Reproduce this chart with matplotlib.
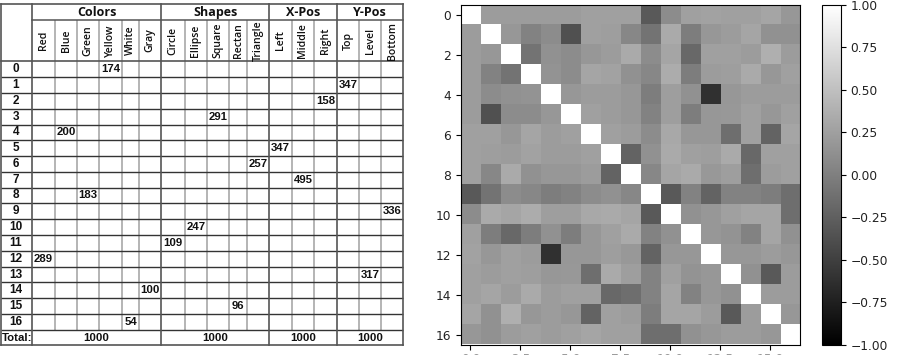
import numpy as np
import matplotlib
matplotlib.use("Agg")
import matplotlib.pyplot as plt

FW, FH = 897, 355
groups = ["Colors", "Shapes", "X-Pos", "Y-Pos"]
group_sizes = [6, 5, 3, 3]
categories = ["Red", "Blue", "Green", "Yellow", "White", "Gray",
              "Circle", "Ellipse", "Square", "Rectan", "Triangle",
              "Left", "Middle", "Right", "Top", "Level", "Bottom"]
row_labels = [str(i) for i in range(17)]
# (row, category column, count)
cell_counts = [(0, 3, 174), (1, 14, 347), (2, 13, 158), (3, 8, 291), (4, 1, 200),
               (5, 11, 347), (6, 10, 257), (7, 12, 495), (8, 2, 183), (9, 16, 336),
               (10, 7, 247), (11, 6, 109), (12, 0, 289), (13, 15, 317), (14, 5, 100),
               (15, 9, 96), (16, 4, 54)]
totals = [1000, 1000, 1000, 1000]

# upper triangle of the correlation matrix, read from the grey levels
corr_upper = [
    [.22, .22, .22, .22, .22, .25, .25, .25, -.29, .10, .25, .27, .25, .25, .29, .18],
    [.18, .02, .10, -.37, .25, .24, .06, -.10, .33, -.02, .18, .22, .29, .14, .14],
    [-.10, .14, .10, .18, .22, .33, .10, .29, -.18, .25, .25, .22, .37, .22],
    [.16, .10, .29, .27, .14, .06, .35, -.02, .22, .24, .33, .18, .25],
    [.18, .22, .22, .18, -.02, .24, .14, -.61, .18, .22, .22, .22],
    [.25, .22, .18, .02, .24, -.02, .18, .19, .25, .18, .25],
    [.25, .22, .10, .32, .18, .18, -.14, .25, -.22, .29],
    [-.22, .14, .33, .25, .24, .33, -.18, .25, .25],
    [.06, .29, .33, .19, .24, -.14, .22, .25],
    [-.29, .02, -.22, .02, .02, -.02, -.14],
    [.14, .18, .25, .29, .29, -.14],
    [.18, .16, .02, .29, .14],
    [.18, .18, .22, .18],
    [.14, -.29, .22],
    [.22, .22],
    [.18],
]

fig = plt.figure(figsize=(FW / 100, FH / 100), dpi=100)
plt.rcParams["font.family"] = ["Open Sans", "DejaVu Sans"]


def box(x0, y0, x1, y1):
    return [x0 / FW, 1 - y1 / FH, (x1 - x0) / FW, (y1 - y0) / FH]


# ---------- table ----------
ax = fig.add_axes([0, 0, 1, 1], zorder=0)
ax.set_xlim(0, FW)
ax.set_ylim(FH, 0)
ax.axis("off")
col_edges = [32, 55, 77, 99, 122, 139, 161, 185, 207, 229, 247, 269, 292, 314, 337, 359, 381, 403]
row_edges = [61, 77, 93, 109, 124.5, 140, 156, 172, 188, 203, 219, 235, 251, 267, 282, 298, 314, 330]
left, top, head, bottom = 1, 4, 20, 345
group_edges = [32, 161, 269, 337, 403]
line = dict(color="#333333", lw=1.0, solid_capstyle="butt")
thin = dict(color="#a0a0a0", lw=1.1, solid_capstyle="butt")

for x in col_edges:
    if x not in group_edges:
        ax.plot([x, x], [head, row_edges[-1]], **thin)
for y in row_edges[1:]:
    ax.plot([left, 403], [y, y], **line)
for y in [top, 61, bottom]:
    ax.plot([left, 403], [y, y], color="#555555", lw=1.2)
ax.plot([32, 403], [head, head], color="#555555", lw=1.1)
for x in [left] + group_edges:
    ax.plot([x, x], [top, bottom], color="#555555", lw=1.2)

ofont = dict(family=["Open Sans", "DejaVu Sans"], color="#111111")
nfont = dict(family=["Liberation Sans", "DejaVu Sans"], fontweight="bold", color="#111111")
for i, g in enumerate(groups):
    ax.text((group_edges[i] + group_edges[i + 1]) / 2, 12.5, g, ha="center", va="center",
            fontsize=9, fontweight="bold", **ofont)
    ax.text((group_edges[i] + group_edges[i + 1]) / 2, 338, str(totals[i]), ha="center",
            va="center", fontsize=8.2, **nfont)
for i, c in enumerate(categories):
    ax.text((col_edges[i] + col_edges[i + 1]) / 2, 40.5, c, rotation=90, ha="center", va="center",
            fontsize=7.6, fontweight="semibold", **ofont)
for i, r in enumerate(row_labels):
    ax.text(16, (row_edges[i] + row_edges[i + 1]) / 2, r, ha="center", va="center",
            fontsize=8.5, **nfont)
ax.text(2, 338, "Total:", ha="left", va="center", fontsize=8.2, **nfont)
for r, c, v in cell_counts:
    ax.text((col_edges[c] + col_edges[c + 1]) / 2, (row_edges[r] + row_edges[r + 1]) / 2, str(v),
            ha="center", va="center", fontsize=8.2, **nfont)

# ---------- heatmap ----------
n = len(corr_upper) + 1
corr = np.eye(n)
for i, vals in enumerate(corr_upper):
    for j, v in enumerate(vals):
        corr[i, i + 1 + j] = corr[i + 1 + j, i] = v

hax = fig.add_axes(box(460, 5, 800.5, 344.5), zorder=1)
im = hax.imshow(corr, cmap="gray", vmin=-1, vmax=1, interpolation="nearest", aspect="equal")
hax.set_xticks(np.arange(0, 16, 2.5))
hax.set_xticklabels(["0.0", "2.5", "5.0", "7.5", "10.0", "12.5", "15.0"], color="#999999",
                    family="DejaVu Sans", fontsize=8.8)
hax.set_yticks(np.arange(0, 17, 2))
hax.tick_params(axis="y", labelsize=8.8, labelcolor="#222222", labelfontfamily="DejaVu Sans")
hax.tick_params(axis="x", pad=2.6)

cax = fig.add_axes(box(822, 5, 841, 344.5), zorder=1)
cb = fig.colorbar(im, cax=cax)
cb.set_ticks(np.arange(-1, 1.01, 0.25))
cb.ax.tick_params(labelsize=8.8, labelcolor="#222222", labelfontfamily="DejaVu Sans")

fig.savefig("out.png", dpi=100)
